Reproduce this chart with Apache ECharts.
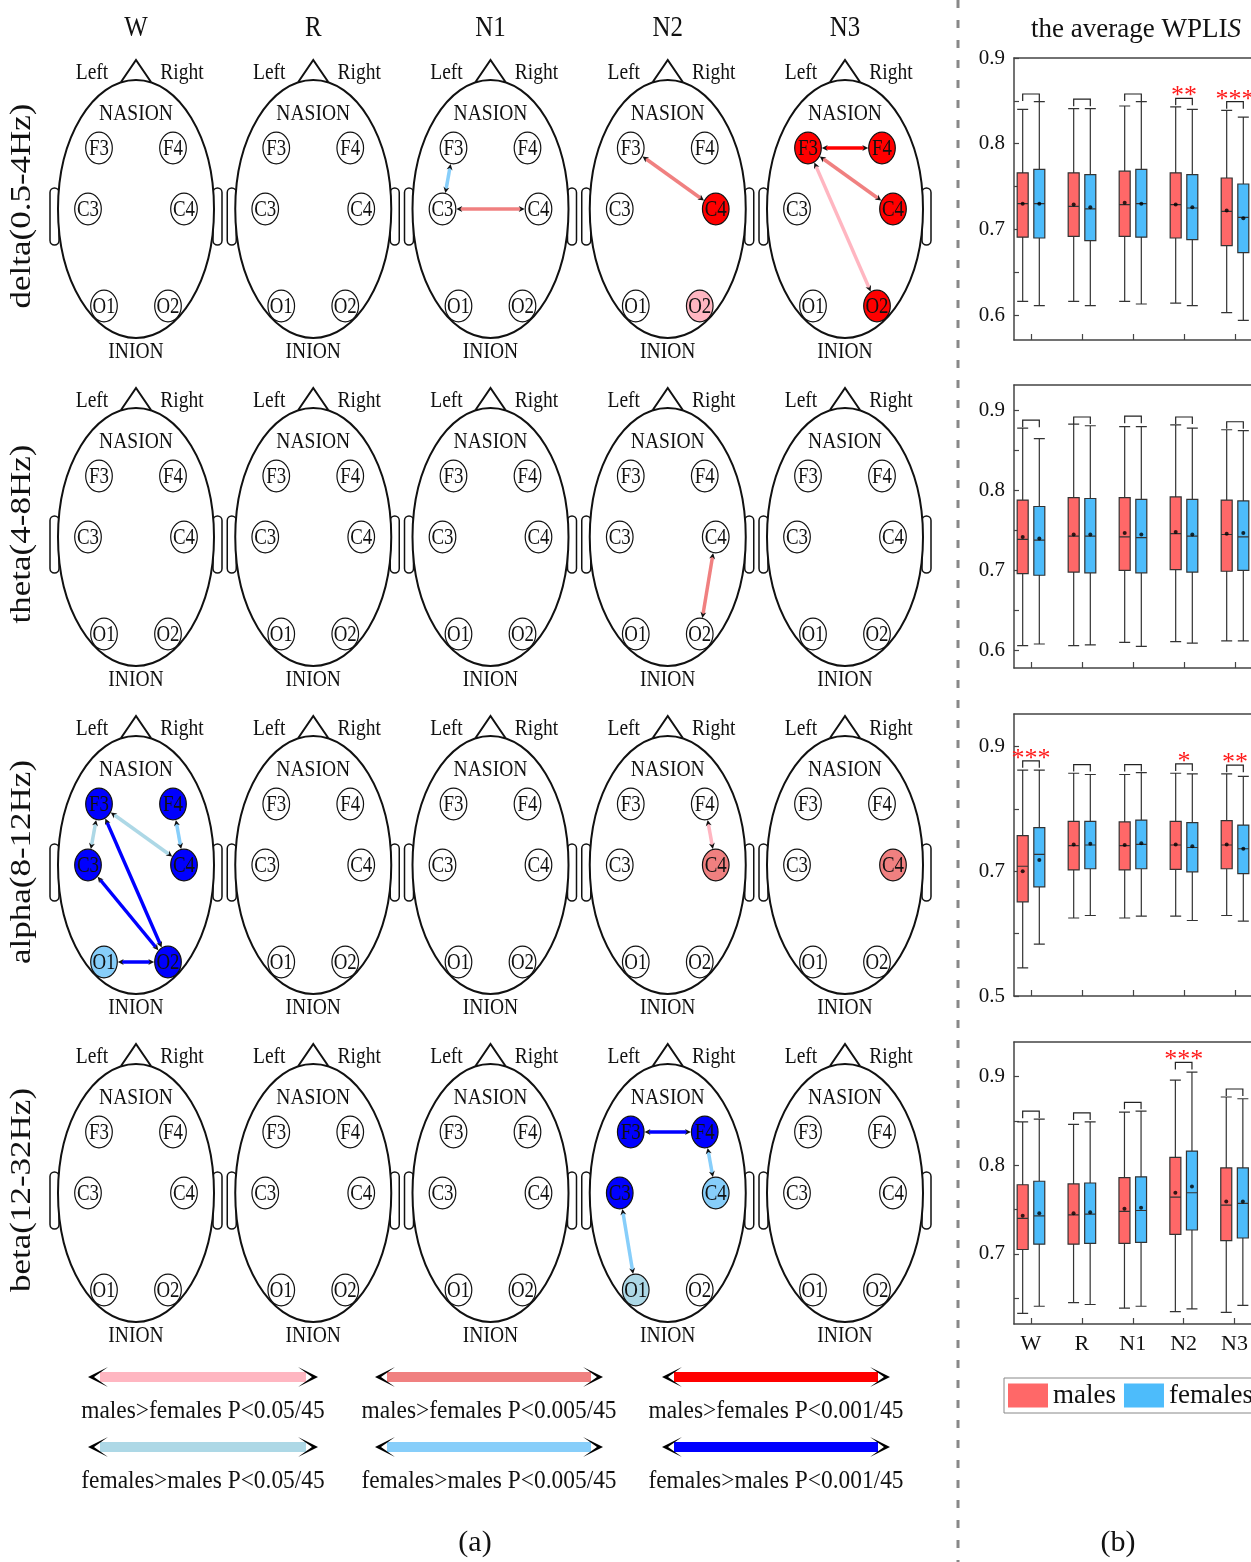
<!DOCTYPE html>
<html>
<head>
<meta charset="utf-8">
<script src="https://cdn.jsdelivr.net/npm/echarts@6/dist/echarts.min.js"></script>
<style>
  html, body { margin: 0; padding: 0; background: #fff; }
  #chart { width: 1251px; height: 1562px; }
</style>
</head>
<body>
<div id="chart"></div>
<script>
// ---------- (a) brain network panels ----------
const stages = ['W', 'R', 'N1', 'N2', 'N3'];
const bands = ['delta(0.5-4Hz)', 'theta(4-8Hz)', 'alpha(8-12Hz)', 'beta(12-32Hz)'];
const electrodes = ['F3', 'F4', 'C3', 'C4', 'O1', 'O2'];
// electrode place on the head, offset from the head centre
const electrodeX = [-37, 37, -48, 48, -32, 32];
const electrodeY = [-61, -61, 0, 0, 97, 97];

const sigLevels = ['m05', 'm005', 'm001', 'f05', 'f005', 'f001'];
const sigColors = ['#FFB6C1', '#F08080', '#FF0000', '#ADD8E6', '#87CEFA', '#0000FF'];
const sigLabels = [
  'males>females P<0.05/45', 'males>females P<0.005/45', 'males>females P<0.001/45',
  'females>males P<0.05/45', 'females>males P<0.005/45', 'females>males P<0.001/45'
];

// [band, stage, electrode, level]
const nodeSig = [
  [0, 3, 'C4', 'm001'], [0, 3, 'O2', 'm05'],
  [0, 4, 'F3', 'm001'], [0, 4, 'F4', 'm001'], [0, 4, 'C4', 'm001'], [0, 4, 'O2', 'm001'],
  [2, 0, 'F3', 'f001'], [2, 0, 'F4', 'f001'], [2, 0, 'C3', 'f001'], [2, 0, 'C4', 'f001'],
  [2, 0, 'O1', 'f005'], [2, 0, 'O2', 'f001'],
  [2, 3, 'C4', 'm005'], [2, 4, 'C4', 'm005'],
  [3, 3, 'F3', 'f001'], [3, 3, 'F4', 'f001'], [3, 3, 'C3', 'f001'], [3, 3, 'C4', 'f005'], [3, 3, 'O1', 'f05']
];
// [band, stage, from, to, level]
const edgeSig = [
  [0, 2, 'F3', 'C3', 'f005'], [0, 2, 'C3', 'C4', 'm005'],
  [0, 3, 'F3', 'C4', 'm005'],
  [0, 4, 'F3', 'F4', 'm001'], [0, 4, 'F3', 'C4', 'm005'], [0, 4, 'F3', 'O2', 'm05'],
  [1, 3, 'C4', 'O2', 'm005'],
  [2, 0, 'F3', 'C3', 'f05'], [2, 0, 'F4', 'C4', 'f005'], [2, 0, 'F3', 'C4', 'f05'],
  [2, 0, 'F3', 'O2', 'f001'], [2, 0, 'C3', 'O2', 'f001'], [2, 0, 'O1', 'O2', 'f001'],
  [2, 3, 'F4', 'C4', 'm05'],
  [3, 3, 'F3', 'F4', 'f001'], [3, 3, 'F4', 'C4', 'f005'], [3, 3, 'C3', 'O1', 'f005']
];

// ---------- (b) average WPLIS boxplots: [min, Q1, median, Q3, max] ----------
const deltaMale = [[0.616, 0.691, 0.730, 0.766, 0.840], [0.616, 0.692, 0.727, 0.766, 0.841], [0.616, 0.692, 0.729, 0.768, 0.844], [0.614, 0.690, 0.729, 0.766, 0.843], [0.603, 0.681, 0.721, 0.760, 0.839]];
const deltaFemale = [[0.611, 0.690, 0.730, 0.770, 0.849], [0.611, 0.687, 0.724, 0.764, 0.841], [0.613, 0.691, 0.730, 0.770, 0.849], [0.611, 0.688, 0.725, 0.764, 0.840], [0.594, 0.673, 0.714, 0.753, 0.831]];
const deltaMaleMean = [0.730, 0.729, 0.731, 0.729, 0.722];
const deltaFemaleMean = [0.730, 0.726, 0.730, 0.726, 0.713];
const deltaBracket = [0.858, 0.852, 0.858, 0.853, 0.849];
const deltaStars = ['', '', '', '**', '***'];

const thetaMale = [[0.606, 0.696, 0.739, 0.788, 0.878], [0.606, 0.698, 0.743, 0.791, 0.883], [0.610, 0.700, 0.742, 0.791, 0.880], [0.611, 0.701, 0.746, 0.792, 0.882], [0.612, 0.699, 0.745, 0.788, 0.876]];
const thetaFemale = [[0.608, 0.694, 0.738, 0.780, 0.865], [0.607, 0.697, 0.743, 0.790, 0.881], [0.605, 0.697, 0.741, 0.789, 0.880], [0.609, 0.698, 0.743, 0.789, 0.878], [0.612, 0.700, 0.742, 0.787, 0.875]];
const thetaMaleMean = [0.742, 0.745, 0.747, 0.748, 0.746];
const thetaFemaleMean = [0.740, 0.745, 0.745, 0.745, 0.747];
const thetaBracket = [0.888, 0.892, 0.893, 0.892, 0.886];
const thetaStars = ['', '', '', '', ''];

const alphaMale = [[0.545, 0.651, 0.708, 0.757, 0.862], [0.625, 0.702, 0.741, 0.780, 0.857], [0.625, 0.702, 0.741, 0.779, 0.855], [0.628, 0.703, 0.742, 0.780, 0.857], [0.629, 0.704, 0.742, 0.781, 0.856]];
const alphaFemale = [[0.583, 0.675, 0.727, 0.770, 0.862], [0.629, 0.704, 0.742, 0.780, 0.855], [0.628, 0.704, 0.743, 0.782, 0.858], [0.621, 0.699, 0.738, 0.778, 0.856], [0.620, 0.696, 0.736, 0.774, 0.852]];
const alphaMaleMean = [0.700, 0.743, 0.742, 0.743, 0.743];
const alphaFemaleMean = [0.718, 0.744, 0.745, 0.740, 0.736];
const alphaBracket = [0.877, 0.871, 0.871, 0.872, 0.870];
const alphaStars = ['***', '', '', '*', '**'];

const betaMale = [[0.633, 0.705, 0.740, 0.778, 0.849], [0.645, 0.711, 0.744, 0.779, 0.846], [0.639, 0.712, 0.748, 0.786, 0.860], [0.635, 0.722, 0.764, 0.809, 0.896], [0.634, 0.715, 0.755, 0.797, 0.877]];
const betaFemale = [[0.641, 0.711, 0.743, 0.782, 0.852], [0.643, 0.712, 0.745, 0.780, 0.849], [0.641, 0.713, 0.749, 0.787, 0.861], [0.638, 0.727, 0.769, 0.816, 0.905], [0.642, 0.718, 0.757, 0.797, 0.875]];
const betaMaleMean = [0.743, 0.746, 0.751, 0.769, 0.759];
const betaFemaleMean = [0.746, 0.747, 0.752, 0.776, 0.759];
const betaBracket = [0.861, 0.859, 0.871, 0.916, 0.886];
const betaStars = ['', '', '', '***', ''];

// ---------- layout ----------
const SERIF = '"Liberation Serif", "Times New Roman", serif';
const INK = '#111';
const HEAD_COL_STEP = 177.25;
const HEAD_ROW_STEP = 328;
const BOX_SHIFT = 0.163; // males left / females right of the stage tick
const MALE_COLOR = '#FF6868';
const FEMALE_COLOR = '#4DBCFB';

const chart = echarts.init(document.getElementById('chart'));

const headData = [];
bands.forEach((b, r) => stages.forEach((s, c) => headData.push([c * HEAD_COL_STEP, r * HEAD_ROW_STEP, c, r])));

const nodeItems = [];
headData.forEach(([hx, hy, c, r]) => {
  electrodes.forEach((e, i) => {
    const sig = nodeSig.find(n => n[0] === r && n[1] === c && n[2] === e);
    nodeItems.push({
      value: [hx + electrodeX[i], hy + electrodeY[i]],
      name: e,
      fill: sig ? sigColors[sigLevels.indexOf(sig[3])] : '#fff'
    });
  });
});

const edgeItems = edgeSig.map(([r, c, a, b, lv]) => {
  const ia = electrodes.indexOf(a), ib = electrodes.indexOf(b);
  const hx = c * HEAD_COL_STEP, hy = r * HEAD_ROW_STEP;
  return {
    value: [hx + electrodeX[ia], hy + electrodeY[ia], hx + electrodeX[ib], hy + electrodeY[ib]],
    color: sigColors[sigLevels.indexOf(lv)]
  };
});

function txt(x, y, text, size, extra) {
  return Object.assign({
    type: 'text', x: x, y: y, scaleX: 0.85,
    style: { text: text, fill: INK, font: size + 'px ' + SERIF, align: 'center', verticalAlign: 'middle' }
  }, extra || {});
}

function renderHead(params, api) {
  const c = api.coord([api.value(0), api.value(1)]);
  const k = api.size([1, 1])[0];
  const col = api.value(2), row = api.value(3);
  const X = v => c[0] + v * k, Y = v => c[1] + v * k;
  const children = [
    { type: 'rect', shape: { x: X(-86), y: Y(-21), width: 9 * k, height: 57 * k, r: 4.5 * k }, style: { fill: '#fff', stroke: INK, lineWidth: 1.5 } },
    { type: 'rect', shape: { x: X(77), y: Y(-21), width: 9 * k, height: 57 * k, r: 4.5 * k }, style: { fill: '#fff', stroke: INK, lineWidth: 1.5 } },
    { type: 'ellipse', shape: { cx: c[0], cy: c[1], rx: 78 * k, ry: 129 * k }, style: { fill: '#fff', stroke: INK, lineWidth: 2 } },
    { type: 'polyline', shape: { points: [[X(-15), Y(-127)], [X(0), Y(-149)], [X(15), Y(-127)]] }, style: { fill: null, stroke: INK, lineWidth: 2 } },
    txt(X(-44), Y(-136), 'Left', 23),
    txt(X(46), Y(-136), 'Right', 23),
    txt(X(0), Y(-95), 'NASION', 23),
    txt(X(0), Y(143), 'INION', 23)
  ];
  if (row === 0) children.push(txt(X(0), Y(-181), stages[col], 30, { scaleX: 0.83 }));
  if (col === 0) children.push(txt(X(-114), Y(-3), bands[row], 35, { scaleX: 1, scaleY: 0.83, rotation: Math.PI / 2 }));
  return { type: 'group', children: children };
}

function renderNode(params, api) {
  const it = nodeItems[params.dataIndex];
  const c = api.coord([api.value(0), api.value(1)]);
  const k = api.size([1, 1])[0];
  return {
    type: 'group', children: [
      { type: 'ellipse', shape: { cx: c[0], cy: c[1], rx: 13.3 * k, ry: 15.8 * k }, style: { fill: it.fill, stroke: INK, lineWidth: 1.2 } },
      txt(c[0], c[1] + 1, it.name, 23, { scaleX: 0.82 })
    ]
  };
}

function arrowHead(tip, dx, dy, len, half, notch, fill) {
  return {
    type: 'polygon',
    shape: {
      points: [
        tip,
        [tip[0] - dx * len - dy * half, tip[1] - dy * len + dx * half],
        [tip[0] - dx * notch, tip[1] - dy * notch],
        [tip[0] - dx * len + dy * half, tip[1] - dy * len - dx * half]
      ]
    },
    style: { fill: fill }
  };
}

function renderEdge(params, api) {
  const it = edgeItems[params.dataIndex];
  const p1 = api.coord([api.value(0), api.value(1)]);
  const p2 = api.coord([api.value(2), api.value(3)]);
  const k = api.size([1, 1])[0];
  const dx = p2[0] - p1[0], dy = p2[1] - p1[1];
  const len = Math.hypot(dx, dy);
  const ux = dx / len, uy = dy / len;
  const rx = 13.3 * k, ry = 15.8 * k;
  const rEdge = 1 / Math.sqrt((ux / rx) ** 2 + (uy / ry) ** 2) + 0.5;
  const a = [p1[0] + ux * rEdge, p1[1] + uy * rEdge];
  const b = [p2[0] - ux * rEdge, p2[1] - uy * rEdge];
  return {
    type: 'group', children: [
      { type: 'line', shape: { x1: a[0] + ux * 4, y1: a[1] + uy * 4, x2: b[0] - ux * 4, y2: b[1] - uy * 4 }, style: { stroke: it.color, lineWidth: 3.5 } },
      arrowHead(a, -ux, -uy, 6, 3, 4, INK),
      arrowHead(b, ux, uy, 6, 3, 4, INK)
    ]
  };
}

// ---------- (b) panels ----------
const BOX_LEFT = 1014;
const BOX_WIDTH = 237;
const STAGE_STEP_PX = 51;
const X_MIN = -1 / 3;
const X_MAX = X_MIN + BOX_WIDTH / STAGE_STEP_PX;
const boxPanels = [
  { male: deltaMale, female: deltaFemale, maleMean: deltaMaleMean, femaleMean: deltaFemaleMean, bracket: deltaBracket, stars: deltaStars,
    top: 58, height: 282, min: 0.571, max: 0.9, labels: [0.6, 0.7, 0.8, 0.9], ticks: [0.6, 0.65, 0.7, 0.75, 0.8, 0.85, 0.9] },
  { male: thetaMale, female: thetaFemale, maleMean: thetaMaleMean, femaleMean: thetaFemaleMean, bracket: thetaBracket, stars: thetaStars,
    top: 385, height: 283, min: 0.578, max: 0.932, labels: [0.6, 0.7, 0.8, 0.9], ticks: [0.6, 0.65, 0.7, 0.75, 0.8, 0.85, 0.9] },
  { male: alphaMale, female: alphaFemale, maleMean: alphaMaleMean, femaleMean: alphaFemaleMean, bracket: alphaBracket, stars: alphaStars,
    top: 714, height: 282, min: 0.5, max: 0.952, labels: [0.5, 0.7, 0.9], ticks: [0.5, 0.6, 0.7, 0.8, 0.9] },
  { male: betaMale, female: betaFemale, maleMean: betaMaleMean, femaleMean: betaFemaleMean, bracket: betaBracket, stars: betaStars,
    top: 1042, height: 282, min: 0.621, max: 0.939, labels: [0.7, 0.8, 0.9], ticks: [0.65, 0.7, 0.75, 0.8, 0.85, 0.9] }
];

const grids = [{ left: 0, top: 0, width: 958, height: 1562 }];
const xAxes = [{ type: 'value', gridIndex: 0, min: -136, max: 822, show: false }];
const yAxes = [{ type: 'value', gridIndex: 0, min: -209, max: 1353, inverse: true, show: false }];

const series = [
  { type: 'custom', name: 'heads', xAxisIndex: 0, yAxisIndex: 0, z: 1, silent: true, renderItem: renderHead, data: headData },
  { type: 'custom', name: 'links', xAxisIndex: 0, yAxisIndex: 0, z: 2, silent: true, renderItem: renderEdge, data: edgeItems.map(e => e.value) },
  { type: 'custom', name: 'electrodes', xAxisIndex: 0, yAxisIndex: 0, z: 3, silent: true, renderItem: renderNode, data: nodeItems.map(n => n.value) }
];

const axisColor = '#444';
const stageTicks = [0, 1, 2, 3, 4];
boxPanels.forEach((p, i) => {
  const g = i + 1;
  const last = i === boxPanels.length - 1;
  grids.push({ left: BOX_LEFT, top: p.top, width: BOX_WIDTH, height: p.height });
  const xm = xAxes.length;
  xAxes.push({
    type: 'value', gridIndex: g, min: X_MIN, max: X_MAX, position: 'bottom',
    axisLine: { show: true, onZero: false, lineStyle: { color: axisColor, width: 1.5 } },
    axisTick: { show: true, inside: true, length: 6, customValues: stageTicks, lineStyle: { color: axisColor, width: 1.2 } },
    axisLabel: { show: last, customValues: stageTicks, formatter: v => stages[Math.round(v)], fontFamily: SERIF, fontSize: 22, color: INK, margin: 9 },
    splitLine: { show: false }
  });
  // twin axis for the females boxes, drawn as the frame's top edge
  xAxes.push({
    type: 'value', gridIndex: g, min: X_MIN, max: X_MAX, position: 'top',
    axisLine: { show: true, onZero: false, lineStyle: { color: axisColor, width: 1.5 } },
    axisTick: { show: false }, axisLabel: { show: false }, splitLine: { show: false }
  });
  const yi = yAxes.length;
  yAxes.push({
    type: 'value', gridIndex: g, min: p.min, max: p.max,
    axisLine: { show: true, onZero: false, lineStyle: { color: axisColor, width: 1.5 } },
    axisTick: { show: true, inside: true, length: 5, customValues: p.ticks, lineStyle: { color: axisColor, width: 1.2 } },
    axisLabel: { customValues: p.labels, formatter: v => v.toFixed(1), fontFamily: SERIF, fontSize: 21, color: INK, margin: 9 },
    splitLine: { show: false }
  });
  const boxStyle = c => ({ color: c, borderColor: '#333', borderWidth: 1.2 });
  series.push({
    type: 'boxplot', name: 'males', xAxisIndex: xm, yAxisIndex: yi, boxWidth: [11, 11],
    itemStyle: boxStyle(MALE_COLOR), emphasis: { disabled: true },
    data: p.male.map((s, j) => [j - BOX_SHIFT].concat(s))
  });
  series.push({
    type: 'boxplot', name: 'females', xAxisIndex: xm + 1, yAxisIndex: yi, boxWidth: [11, 11],
    itemStyle: boxStyle(FEMALE_COLOR), emphasis: { disabled: true },
    data: p.female.map((s, j) => [j + BOX_SHIFT].concat(s))
  });
  series.push({
    type: 'scatter', xAxisIndex: xm, yAxisIndex: yi, symbolSize: 4, z: 5, silent: true,
    itemStyle: { color: '#000' },
    data: p.maleMean.map((m, j) => [j - BOX_SHIFT, m]).concat(p.femaleMean.map((m, j) => [j + BOX_SHIFT, m]))
  });
  const stars = p.stars;
  series.push({
    type: 'custom', xAxisIndex: xm, yAxisIndex: yi, z: 6, silent: true,
    data: p.bracket.map((b, j) => [j, b]),
    renderItem: function (params, api) {
      const j = api.value(0);
      const pl = api.coord([j - BOX_SHIFT, api.value(1)]);
      const pr = api.coord([j + BOX_SHIFT, api.value(1)]);
      const children = [{
        type: 'polyline',
        shape: { points: [[pl[0], pl[1] + 7], pl, pr, [pr[0], pr[1] + 7]] },
        style: { fill: null, stroke: '#222', lineWidth: 1.2 }
      }];
      if (stars[params.dataIndex]) {
        children.push({
          type: 'text', x: (pl[0] + pr[0]) / 2, y: pl[1] - 2,
          style: { text: stars[params.dataIndex], fill: '#FF1A1A', font: '26px ' + SERIF, align: 'center', verticalAlign: 'middle' }
        });
      }
      return { type: 'group', children: children };
    }
  });
});

// ---------- legend of link colours, figure labels ----------
const graphic = [
  { type: 'line', shape: { x1: 958, y1: 0, x2: 958, y2: 1562 }, style: { stroke: '#888', lineWidth: 3, lineDash: [8, 12] } },
  { type: 'text', x: 1136, y: 30, style: { text: 'the average WPLI{i|S}', fill: INK, fontSize: 27, fontFamily: SERIF, align: 'center', verticalAlign: 'middle',
      rich: { i: { fontStyle: 'italic', fontSize: 27, fontFamily: SERIF, fill: INK } } } },
  { type: 'text', x: 475, y: 1543, style: { text: '(a)', fill: INK, font: '30px ' + SERIF, align: 'center', verticalAlign: 'middle' } },
  { type: 'text', x: 1118, y: 1543, style: { text: '(b)', fill: INK, font: '30px ' + SERIF, align: 'center', verticalAlign: 'middle' } }
];
const legendCols = [[88, 318], [375, 603], [662, 890]];
const legendRowsY = [1377, 1447];
sigLevels.forEach((lv, i) => {
  const r = Math.floor(i / 3), c = i % 3;
  const [x0, x1] = legendCols[c];
  const y = legendRowsY[r];
  graphic.push({
    type: 'group', children: [
      { type: 'rect', shape: { x: x0 + 12, y: y - 5, width: x1 - x0 - 24, height: 10 }, style: { fill: sigColors[i] } },
      arrowHead([x0, y], -1, 0, 20, 10, 6, '#000'),
      arrowHead([x1, y], 1, 0, 20, 10, 6, '#000')
    ]
  });
  graphic.push({
    type: 'text', x: (x0 + x1) / 2, y: y + 34, scaleX: 0.9,
    style: { text: sigLabels[i], fill: INK, font: '26px ' + SERIF, align: 'center', verticalAlign: 'middle' }
  });
});

chart.setOption({
  animation: false,
  backgroundColor: '#fff',
  grid: grids,
  xAxis: xAxes,
  yAxis: yAxes,
  legend: {
    data: [
      { name: 'males', itemStyle: { color: MALE_COLOR, borderWidth: 0 } },
      { name: 'females', itemStyle: { color: FEMALE_COLOR, borderWidth: 0 } }
    ],
    left: 1004, top: 1378, width: 300,
    orient: 'horizontal',
    icon: 'rect', itemWidth: 40, itemHeight: 24, itemGap: 8,
    padding: [4, 4, 4, 4],
    borderColor: '#888', borderWidth: 1,
    textStyle: { fontFamily: SERIF, fontSize: 27, color: INK },
    selectedMode: false
  },
  graphic: graphic,
  series: series
});
</script>
</body>
</html>
